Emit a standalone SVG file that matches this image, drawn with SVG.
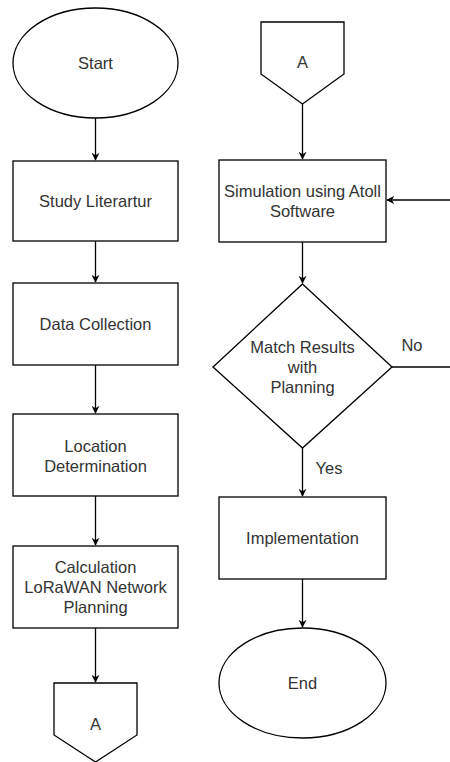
<svg xmlns="http://www.w3.org/2000/svg" width="450" height="762" viewBox="0 0 450 762">
<style>
.s{fill:#fff;stroke:#000;stroke-width:1.3}
.t{font-family:"Liberation Sans",Arial,sans-serif;font-size:16.5px;fill:#333;text-anchor:middle;dominant-baseline:central}
.c{fill:none;stroke:#000;stroke-width:1.3}
</style>
<defs>
<marker id="ah" viewBox="0 0 10 10" refX="9" refY="5" markerWidth="8" markerHeight="8" markerUnits="userSpaceOnUse" orient="auto">
<path d="M0,0 L10,5 L0,10 L3,5 Z" fill="#000"/>
</marker>
</defs>
<rect width="450" height="762" fill="#fff"/>
<g id="connectors">
<path class="c" d="M95.5,118 V160" marker-end="url(#ah)"/>
<path class="c" d="M95.5,241 V282" marker-end="url(#ah)"/>
<path class="c" d="M95.5,365 V413" marker-end="url(#ah)"/>
<path class="c" d="M95.5,496 V545" marker-end="url(#ah)"/>
<path class="c" d="M95.5,628 V682" marker-end="url(#ah)"/>
<path class="c" d="M302.5,104 V159" marker-end="url(#ah)"/>
<path class="c" d="M450,200 H387" marker-end="url(#ah)"/>
<path class="c" d="M302.5,242 V283" marker-end="url(#ah)"/>
<path class="c" d="M392,367 H450"/>
<text class="t" x="412" y="345">No</text>
<path class="c" d="M302.5,448 V496" marker-end="url(#ah)"/>
<text class="t" x="329" y="468">Yes</text>
<path class="c" d="M302.5,579 V627" marker-end="url(#ah)"/>
</g>
<g id="start"><ellipse class="s" cx="95.5" cy="63" rx="82.5" ry="55"/><text class="t" x="95.5" y="63">Start</text></g>
<g id="study"><rect class="s" x="13" y="161" width="165" height="80"/><text class="t" x="95.5" y="201">Study Literartur</text></g>
<g id="data"><rect class="s" x="13" y="283" width="165" height="82"/><text class="t" x="95.5" y="324">Data Collection</text></g>
<g id="location"><rect class="s" x="13" y="414" width="165" height="82"/><text class="t" x="95.5" y="446">Location</text><text class="t" x="95.5" y="466">Determination</text></g>
<g id="calc"><rect class="s" x="13" y="546" width="165" height="82"/><text class="t" x="95.5" y="567">Calculation</text><text class="t" x="95.5" y="587">LoRaWAN Network</text><text class="t" x="95.5" y="607">Planning</text></g>
<g id="offA1"><path class="s" d="M54,683 H137 V735 L95.5,762 L54,735 Z"/><text class="t" x="95.5" y="724">A</text></g>
<g id="offA2"><path class="s" d="M261,22 H344 V74 L302.5,104 L261,74 Z"/><text class="t" x="302.5" y="62">A</text></g>
<g id="sim"><rect class="s" x="219" y="160" width="167" height="82"/><text class="t" x="302.5" y="191">Simulation using Atoll</text><text class="t" x="302.5" y="211">Software</text></g>
<g id="match"><path class="s" d="M302.5,284 L392,367 L302.5,448 L213,367 Z"/><text class="t" x="302.5" y="347">Match Results</text><text class="t" x="302.5" y="367">with</text><text class="t" x="302.5" y="387">Planning</text></g>
<g id="impl"><rect class="s" x="219" y="497" width="167" height="82"/><text class="t" x="302.5" y="538">Implementation</text></g>
<g id="end"><ellipse class="s" cx="302.5" cy="683" rx="83.5" ry="55"/><text class="t" x="302.5" y="683">End</text></g>
</svg>
